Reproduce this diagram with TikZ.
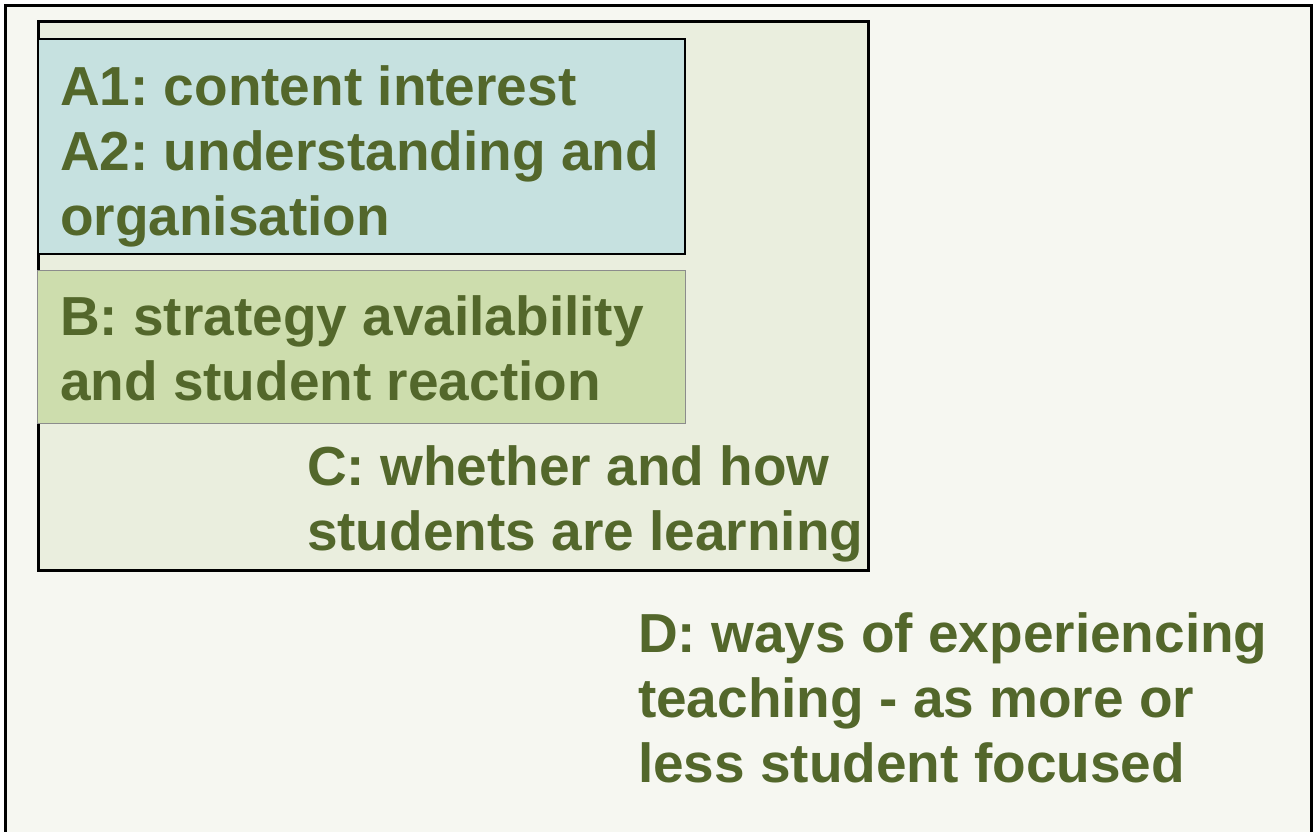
\documentclass[tikz,border=0pt]{standalone}
\usepackage{fontspec}
\setmainfont{Liberation Sans}
\frenchspacing
\definecolor{pagebg}{HTML}{F6F7F1}
\definecolor{cfill}{HTML}{EAEEDE}
\definecolor{afill}{HTML}{C6E1E0}
\definecolor{bfill}{HTML}{CDDDAD}
\definecolor{txtgreen}{HTML}{53672B}
% fixed-height strut so the first baseline sits 50pt under the node top
\newcommand{\firstline}{\rule{0pt}{50pt}}
\tikzset{
  panel/.style={draw=black, line width=3pt, inner sep=0pt, outer sep=0pt, anchor=north west},
  label/.style={anchor=north west, inner sep=0pt, outer sep=0pt, align=left,
    text=txtgreen, font=\fontsize{55}{65}\selectfont\bfseries},
}
\begin{document}
\begin{tikzpicture}[x=1pt, y=-1pt]
  \useasboundingbox (0,0) rectangle (1314,832);
  % outer frame, its lower edge runs past the page
  \node[panel, fill=pagebg, minimum width=1306pt, minimum height=840pt] (outer) at (5,6) {};
  % box C holds boxes A and B
  \node[panel, fill=cfill, minimum width=830pt, minimum height=548pt] (boxC) at (38,22) {};
  \node[panel, line width=2.6pt, fill=afill, minimum width=647pt, minimum height=215pt] (boxA) at (38,39) {};
  \node[anchor=north west, draw=black!45, line width=0.8pt, fill=bfill, inner sep=0pt,
        minimum width=648pt, minimum height=153pt] (boxB) at (37,270) {};
  % texts (top = first baseline - 50)
  \node[label] (textA) at (60,55) {\firstline A1: content interest\\A2: understanding and\\organisation};
  \node[label] (textB) at (60,285) {\firstline B: strategy availability\\and student reaction};
  \node[label] (textC) at (307,435) {\firstline C: whether and how\\students are learning};
  \node[label] (textD) at (638,602) {\firstline D: ways of experiencing\\teaching - as more or\\less student focused};
\end{tikzpicture}
\end{document}
